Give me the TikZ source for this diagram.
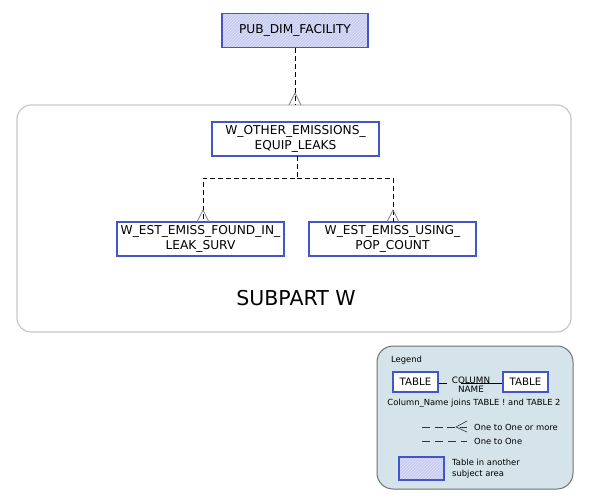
\documentclass[tikz,border=0pt]{standalone}
\usepackage{fontspec}
\setmainfont{DejaVu Sans}
\usetikzlibrary{patterns}
\definecolor{tblborder}{HTML}{4355C8}
\definecolor{hatchfill}{HTML}{C5CAF0}
\definecolor{hatchline}{HTML}{E2E5F8}
\definecolor{areagray}{HTML}{C8C8C8}
\definecolor{legfill}{HTML}{D5E3EA}
\definecolor{legborder}{HTML}{707070}
\definecolor{legline}{HTML}{333333}
\begin{document}
\begin{tikzpicture}[x=1pt,y=-1pt,
  tbl/.style={draw=tblborder,line width=1.6pt,fill=white,inner sep=0pt,align=center,font=\fontsize{12.2}{15}\selectfont},
  other/.style={tbl,fill=none,preaction={fill=hatchfill},preaction={pattern=north east lines,pattern color=hatchline}},
  rel/.style={draw=black,dash pattern=on 5pt off 3pt,line width=0.7pt},
  crow/.style={draw=gray,line width=0.7pt},
  legdash/.style={draw=legline,dash pattern=on 8pt off 4.5pt,line width=0.7pt},
  lbl/.style={font=\fontsize{8.4}{10.5}\selectfont,inner sep=0pt}]
\useasboundingbox (0,0) rectangle (591,501);
\fill[white] (0,0) rectangle (591,501);
% subject area
\draw[areagray,line width=1.2pt,rounded corners=14pt] (17,105) rectangle (571,332);
\node[font=\fontsize{20.5}{24}\selectfont] (sub) at (296,298) {SUBPART W};
% tables
\node[other,minimum width=146pt,minimum height=34pt] (pub) at (295,30.5) {PUB\_DIM\_FACILITY};
\node[tbl,minimum width=167pt,minimum height=34pt] (oth) at (295.5,139) {W\_OTHER\_EMISSIONS\_\\EQUIP\_LEAKS};
\node[tbl,minimum width=167pt,minimum height=34pt] (found) at (200.5,239) {W\_EST\_EMISS\_FOUND\_IN\_\\LEAK\_SURV};
\node[tbl,minimum width=167pt,minimum height=34pt] (pop) at (392.5,239) {W\_EST\_EMISS\_USING\_\\POP\_COUNT};
% relation pub -> area
\coordinate (areatop) at (295,105);
\draw[rel] (pub.south) -- (areatop);
\draw[crow] (289,105) -- (295,93) -- (301,105);
% relation oth -> children
\coordinate (j) at (297,178);
\coordinate (jl) at (203,178);
\coordinate (jr) at (393,178);
\draw[rel] (297,156) -- (j) -- (jl) -- (203,222);
\draw[rel] (j) -- (jr) -- (393,222);
\draw[crow] (197,222) -- (203,210) -- (209,222);
\draw[crow] (387,222) -- (393,210) -- (399,222);
% legend
\draw[legborder,fill=legfill,line width=1pt,rounded corners=16pt] (377,346) rectangle (573,489);
\node[lbl,anchor=west] (legt) at (391,360) {Legend};
\node[tbl,line width=1.4pt,minimum width=45pt,minimum height=20pt,font=\fontsize{10.2}{11}\selectfont] (t1) at (415.5,382) {TABLE};
\node[tbl,line width=1.4pt,minimum width=45pt,minimum height=20pt,font=\fontsize{10.2}{11}\selectfont] (t2) at (525.5,382) {TABLE};
\node[lbl,align=center,font=\fontsize{8.8}{9.5}\selectfont] (cn) at (471,384.5) {COLUMN\\NAME};
\coordinate (cl) at (447,383);
\coordinate (cr) at (461,383);
\draw[line width=0.7pt] (t1.east |- cl) -- (cl);
\draw[line width=0.7pt] (cr) -- (t2.west |- cr);
\node[lbl] (join) at (474,403) {Column\_Name joins TABLE ! and TABLE 2};
\coordinate (m1a) at (422,427);
\coordinate (m1b) at (467,427);
\draw[legdash] (m1a) -- (m1b);
\draw[legline,line width=0.6pt] (467,421) -- (456,427) -- (467,432);
\node[lbl,anchor=west] (one1) at (474,427) {One to One or more};
\coordinate (m2a) at (422,441);
\coordinate (m2b) at (467,441);
\draw[legdash,dash pattern=on 8pt off 5pt] (m2a) -- (m2b);
\node[lbl,anchor=west] (one2) at (474,441) {One to One};
\node[other,line width=1.4pt,minimum width=45pt,minimum height=23pt] (hb) at (421.5,468.5) {};
\node[lbl,anchor=west,align=left] (tia) at (452,468.5) {Table in another\\subject area};
\end{tikzpicture}
\end{document}
